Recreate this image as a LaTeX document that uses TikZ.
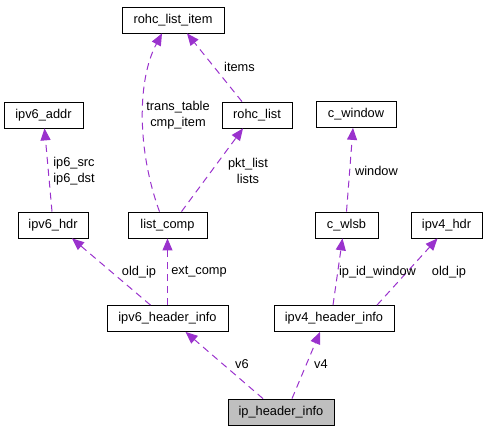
\documentclass[tikz,border=0pt]{standalone}
\usepackage{fontspec}
\setmainfont{Liberation Sans}
\usetikzlibrary{arrows.meta}

\definecolor{usecol}{HTML}{9A32CD}
\definecolor{curcol}{HTML}{BFBFBF}

\tikzset{
  cls/.style={draw=black, line width=0.8pt, minimum height=26pt, inner sep=0pt},
  usage/.style={usecol, line width=1pt, dash pattern=on 7pt off 5pt,
    -{Triangle[length=12pt,width=10pt]}},
  lbl/.style={inner sep=0pt, align=center}
}

\begin{document}
\begin{tikzpicture}[x=1pt, y=-1pt, font=\fontsize{12.8}{16}\selectfont]
      \useasboundingbox (0,0) rectangle (487,432);

      % Nodes
      \node[cls, minimum width=102pt] (rli) at (173, 20) {rohc\_list\_item};
      \node[cls, minimum width=79pt] (v6addr) at (43.5, 115) {ipv6\_addr};
      \node[cls, minimum width=70pt] (rl) at (257, 115) {rohc\_list};
      \node[cls, minimum width=80pt] (cwin) at (356, 114.5) {c\_window};
      \node[cls, minimum width=70pt] (v6hdr) at (53, 225) {ipv6\_hdr};
      \node[cls, minimum width=79pt] (lc) at (167.5, 225) {list\_comp};
      \node[cls, minimum width=63pt] (wlsb) at (346.5, 225) {c\_wlsb};
      \node[cls, minimum width=71pt] (v4hdr) at (446.5, 225) {ipv4\_hdr};
      \node[cls, minimum width=121pt] (v6hi) at (167.5, 318.5) {ipv6\_header\_info};
      \node[cls, minimum width=120pt] (v4hi) at (334, 318.5) {ipv4\_header\_info};
      \node[cls, fill=curcol, minimum width=106pt] (iphi) at (281, 412) {ip\_header\_info};

      % Edges
      \draw[usage] ([xshift=-18pt]iphi.north) -- ([xshift=18pt]v6hi.south);
      \draw[usage] ([xshift=11pt]iphi.north) -- ([xshift=-14pt]v4hi.south);
      \draw[usage] ([xshift=-17pt]v6hi.north) -- ([xshift=19pt]v6hdr.south);
      \draw[usage] (v6hi.north) -- (lc.south);
      \draw[usage] ([xshift=-1pt]v4hi.north) -- ([xshift=-4pt]wlsb.south);
      \draw[usage] ([xshift=43pt]v4hi.north) -- ([xshift=-9pt]v4hdr.south);
      \draw[usage] ([xshift=0pt]wlsb.north) -- ([xshift=-3pt]cwin.south);
      \draw[usage] ([xshift=-1pt]v6hdr.north) -- ([xshift=1pt]v6addr.south);
      \draw[usage] ([xshift=14pt]lc.north) -- ([xshift=-14pt]rl.south);
      \draw[usage] ([xshift=-8pt]lc.north) .. controls (137,150) and (137,80) .. ([xshift=-11pt]rli.south);
      \draw[usage] ([xshift=-15pt]rl.north) -- ([xshift=14pt]rli.south);

      % Labels
      \node[lbl] (tv6) at (242, 364) {v6};
      \node[lbl] (tv4) at (321, 364) {v4};
      \node[lbl] (told6) at (139, 272) {old\_ip};
      \node[lbl] (text) at (199, 272) {ext\_comp};
      \node[lbl] (tipid) at (377.5, 272) {ip\_id\_window};
      \node[lbl] (told4) at (449, 272) {old\_ip};
      \node[lbl] (twin) at (376.5, 171) {window};
      \node[lbl] (tsrc) at (74, 171) {ip6\_src\\ip6\_dst};
      \node[lbl] (ttt) at (178, 115) {trans\_table\\cmp\_item};
      \node[lbl] (tpkt) at (248, 171) {pkt\_list\\lists};
      \node[lbl] (titems) at (239.5, 67) {items};
    \end{tikzpicture}
\end{document}
